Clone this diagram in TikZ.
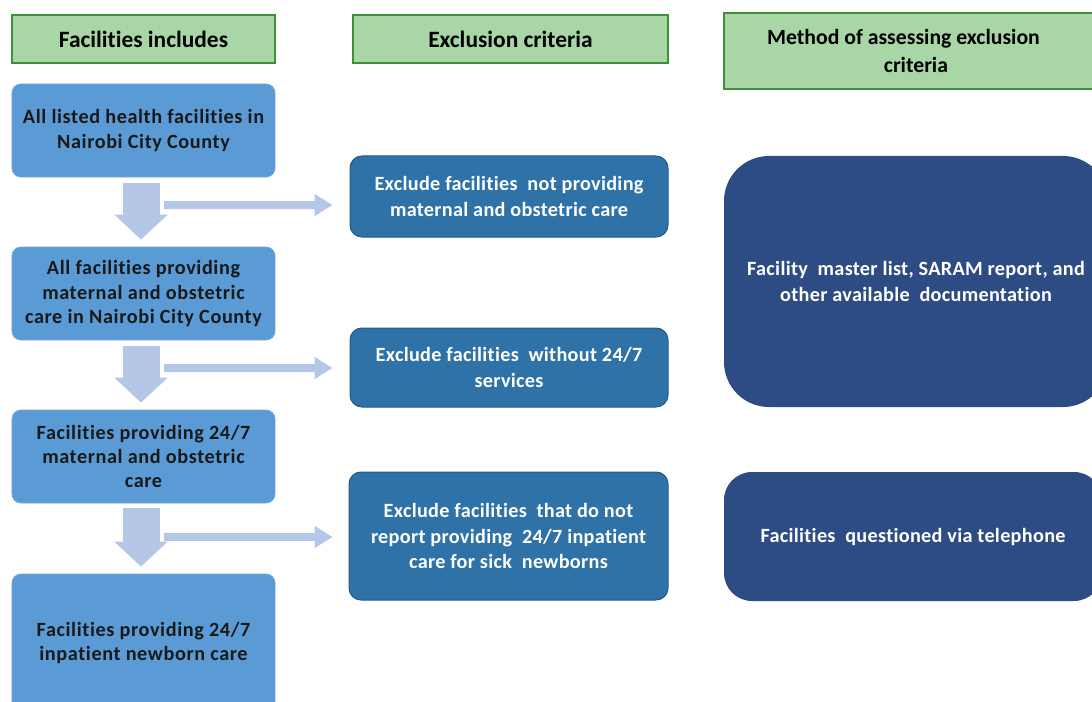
\documentclass[tikz,border=0pt]{standalone}
\usepackage{fontspec}
\setmainfont{Carlito}[Ligatures=NoCommon]
\newfontfamily\leftfont{Carlito}[Ligatures=NoCommon,LetterSpace=3]
\newfontfamily\midfont{Carlito}[Ligatures=NoCommon,LetterSpace=1.5]
\usetikzlibrary{arrows.meta}
\definecolor{hdrfill}{HTML}{A9D6A6}
\definecolor{hdrline}{HTML}{3F8F3A}
\definecolor{leftfill}{HTML}{5B9BD5}
\definecolor{leftline}{HTML}{6FA8DC}
\definecolor{midfill}{HTML}{2E72A8}
\definecolor{midline}{HTML}{25588A}
\definecolor{rightfill}{HTML}{2E4C84}
\definecolor{arrowfill}{HTML}{B4C7E7}
\tikzset{
  base/.style={align=center, inner sep=0pt},
  hdr/.style={base, draw=hdrline, line width=1.2bp, fill=hdrfill, text=black},
  hdrbig/.style={hdr, font=\fontsize{23.5}{28}\selectfont\bfseries},
  hdrsmall/.style={hdr, font=\fontsize{21.8}{28}\selectfont\bfseries},
  leftbox/.style={base, draw=leftline, line width=0.8bp, fill=leftfill, text=black!90, rounded corners=9bp, font=\fontsize{20.3}{24.5}\leftfont\bfseries},
  midbox/.style={base, draw=midline, line width=1bp, fill=midfill, text=white, rounded corners=12bp, font=\fontsize{20.3}{26}\midfont\bfseries},
  rightbox/.style={base, fill=rightfill, text=white, font=\fontsize{20.3}{26}\midfont\bfseries},
  downarrow/.style={draw=arrowfill, line width=37bp, -{Triangle[width=52bp,length=25bp,fill=arrowfill]}},
  sidearrow/.style={draw=arrowfill, line width=8bp, -{Triangle[width=21bp,length=18bp,fill=arrowfill]}}
}
\begin{document}
\begin{tikzpicture}[x=1bp,y=-1bp]
\clip (0,0) rectangle (1092,702);
\fill[white] (0,0) rectangle (1092,702);
% headers
\node[hdrbig, minimum width=263bp, minimum height=48bp] (h1) at (143.5,39) {Facilities includes};
\node[hdrbig, minimum width=315bp, minimum height=48bp] (h2) at (510.5,39) {Exclusion criteria};
\node[hdrsmall, minimum width=384bp, minimum height=76bp] (h3) at (916,51) {Method of assessing exclusion\hspace*{25bp}\\criteria};
% left column
\node[leftbox, minimum width=263bp, minimum height=93bp] (b1) at (143.5,130.5) {All listed health facilities in\\Nairobi City County};
\node[leftbox, minimum width=263bp, minimum height=93bp] (b2) at (143.5,293.5) {All facilities providing\\maternal and obstetric\\care in Nairobi City County};
\node[leftbox, minimum width=263bp, minimum height=93bp] (b3) at (143.5,456.5) {Facilities providing 24/7\\maternal and obstetric\\care};
\node[leftbox, minimum width=263bp, minimum height=138bp] (b4) at (143.5,643) {Facilities providing 24/7\\inpatient newborn care};
% middle column
\node[midbox, minimum width=318bp, minimum height=81bp] (m1) at (509,196.5) {Exclude facilities\ \ not providing\\maternal and obstetric care};
\node[midbox, minimum width=318bp, minimum height=79bp] (m2) at (509,367.5) {Exclude facilities\ \ without 24/7\\services};
\node[midbox, minimum width=319bp, minimum height=128bp] (m3) at (508.5,536) {Exclude facilities\ \ that do not\\report providing\ \ 24/7 inpatient\\care for sick\ \ newborns};
% right column
\node[rightbox, rounded corners=45bp, minimum width=384bp, minimum height=251bp] (r1) at (916,281.5) {Facility\ \ master list, SARAM report, and\\other available\ \ documentation};
\node[rightbox, rounded corners=28bp, minimum width=378bp, minimum height=129bp] (r2) at (913,536.5) {Facilities\ \ questioned via telephone};
% down arrows
\draw[downarrow] ([xshift=-2.5bp,yshift=-6bp]b1.south) -- ([xshift=-2.5bp,yshift=7bp]b2.north);
\draw[downarrow] ([xshift=-2.5bp,yshift=-6bp]b2.south) -- ([xshift=-2.5bp,yshift=7bp]b3.north);
\draw[downarrow] ([xshift=-2.5bp,yshift=-5bp]b3.south) -- ([xshift=-2.5bp,yshift=7bp]b4.north);
% side arrows
\coordinate (s1) at (164,205);
\coordinate (s2) at (164,368);
\coordinate (s3) at (164,537);
\draw[sidearrow] (s1) -- ([xshift=-17bp,yshift=-8.5bp]m1.west);
\draw[sidearrow] (s2) -- ([xshift=-17bp,yshift=-0.5bp]m2.west);
\draw[sidearrow] (s3) -- ([xshift=-16bp,yshift=-1bp]m3.west);
\end{tikzpicture}
\end{document}
